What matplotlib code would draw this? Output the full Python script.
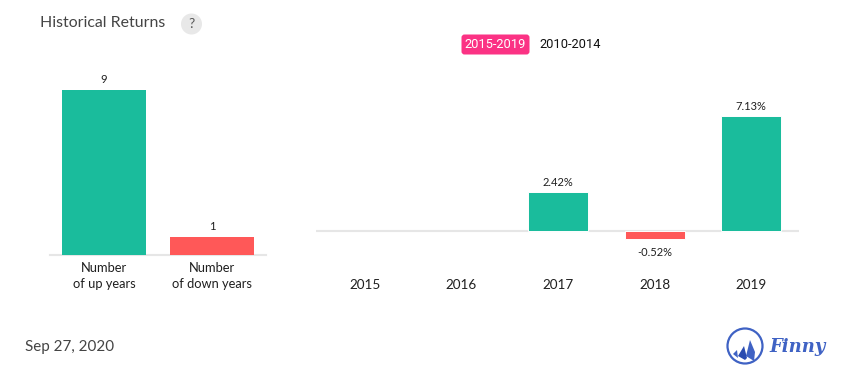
import matplotlib
matplotlib.use('Agg')
import matplotlib.pyplot as plt
from matplotlib.patches import Circle, FancyBboxPatch, Polygon

W, H = 855, 382
plt.rcParams['font.family'] = ['Lato', 'DejaVu Sans']

count_labels = ['Number\nof up years', 'Number\nof down years']
count_values = [9, 1]
years = ['2015', '2016', '2017', '2018', '2019']
returns = [0, 0, 2.42, -0.52, 7.13]
return_labels = ['', '', '2.42%', '-0.52%', '7.13%']

GREEN = '#1abc9c'
RED = '#ff5858'
PINK = '#fb3284'
LINE = '#e6e6e6'
BLUE = '#3f62c4'
DARK = '#1f1f1f'


def px_axes(fig, left, top, right, bottom):
    # position given in image pixels, y from the top
    return fig.add_axes([left / W, 1 - bottom / H, (right - left) / W, (bottom - top) / H])


fig = plt.figure(figsize=(W / 100, H / 100), dpi=100, facecolor='white')

# left chart
ax1 = px_axes(fig, 50, 80, 266, 255)
ax1.bar(range(2), count_values, width=84 / 108, color=[GREEN, RED], zorder=3)
ax1.set_xlim(-0.5, 1.5)
ax1.set_ylim(0, 175 / 18.33)
for i, v in enumerate(count_values):
    ax1.annotate(str(v), (i, v), xytext=(0, 5), textcoords='offset pixels', ha='center',
                 va='bottom', fontsize=8, color=DARK)
for s in ['top', 'left', 'right']:
    ax1.spines[s].set_visible(False)
ax1.spines['bottom'].set_color(LINE)
ax1.spines['bottom'].set_linewidth(1.5)
ax1.set_yticks([])
ax1.set_xticks(range(2))
ax1.set_xticklabels(count_labels, fontsize=9.3, color=DARK, linespacing=1.4)
ax1.tick_params(axis='x', length=0, pad=5)

# right chart
ax2 = px_axes(fig, 316.4, 90, 799.4, 265)
ax2.bar(range(5), returns, width=60 / 96.6, color=[GREEN if r >= 0 else RED for r in returns],
        edgecolor=['none' if r == 0 else 'white' for r in returns], linewidth=0.7, zorder=3)
ax2.axhline(0, color=LINE, linewidth=1.5, zorder=1)
ax2.set_xlim(-0.5, 4.5)
ax2.set_ylim(-34 / 16.1, 141 / 16.1)
for i, (v, lab) in enumerate(zip(returns, return_labels)):
    if not lab:
        continue
    off = 4 if v >= 0 else -8
    ax2.annotate(lab, (i, v), xytext=(0, off), textcoords='offset pixels', ha='center',
                 va='bottom' if v >= 0 else 'top', fontsize=8, color=DARK)
ax2.axis('off')
for i, y in enumerate(years):
    ax2.annotate(y, (i, 0), xytext=(0, -54), textcoords='offset pixels', ha='center',
                 va='center', fontsize=9.7, color=DARK)

# overlay in pixel coordinates for the header, date and logo
ov = fig.add_axes([0, 0, 1, 1], zorder=5)
ov.set_xlim(0, W)
ov.set_ylim(H, 0)
ov.axis('off')

ov.text(40, 23, 'Historical Returns', fontsize=11.4, color='#444444', va='center')
ov.add_patch(Circle((191.5, 24), 10.5, color='#e8e8e8', lw=0))
ov.text(191.5, 24, '?', fontsize=10, color='#555555', ha='center', va='center')

ov.add_patch(FancyBboxPatch((463, 36), 65, 17, boxstyle='round,pad=1.5,rounding_size=3',
                            facecolor=PINK, edgecolor='none'))
ov.text(495.5, 44.5, '2015-2019', fontsize=9.3, color='white', ha='center', va='center',
        family=['Roboto', 'DejaVu Sans'])
ov.text(570, 44.5, '2010-2014', fontsize=9.3, color='#111111', ha='center', va='center',
        family=['Roboto', 'DejaVu Sans'])

ov.text(25, 347.5, 'Sep 27, 2020', fontsize=10.9, color='#444444', va='center')

# logo
ov.add_patch(Circle((745, 346), 17.5, facecolor='white', edgecolor=BLUE, lw=1.6))
ov.add_patch(Polygon([(750, 340), (755, 352), (754, 361), (746, 356)], color=BLUE, lw=0))
ov.add_patch(Polygon([(744, 346), (747, 358), (745, 360), (738, 356)], color='#2a4bb0', lw=0))
ov.add_patch(Polygon([(737, 350), (738, 358), (733, 354)], color=BLUE, lw=0))
ov.text(798, 347, 'Finny', fontsize=13, color=BLUE, ha='center', va='center',
        style='italic', weight='bold', family=['DejaVu Serif'])

fig.savefig('out.png', dpi=100, facecolor='white')
plt.close(fig)
